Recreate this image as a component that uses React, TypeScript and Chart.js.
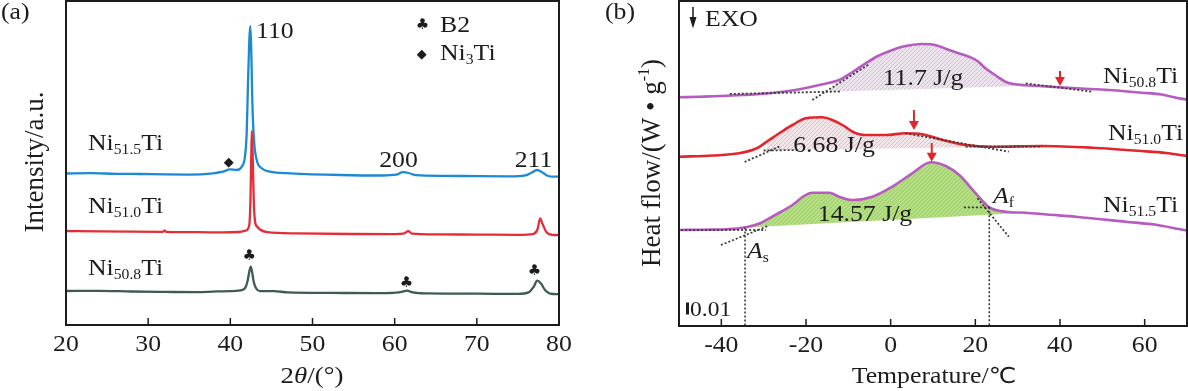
import React, { useEffect, useRef } from "react";
import { Chart, registerables } from "chart.js";

Chart.register(...registerables);

// ---------- Panel (a): XRD ----------
const xrdTickValues = [20, 30, 40, 50, 60, 70, 80];

const ni515Angle = [20, 23, 26, 29, 32, 35, 37.9, 39.1, 39.96, 40.77, 41.38, 41.78, 41.99, 42.15, 42.31, 42.43, 42.55, 42.67, 42.88, 43.21, 43.82, 44.83, 47.3, 53.4, 58.5, 60.2, 61.0, 61.7, 62.6, 66, 70, 74, 75.9, 76.7, 77.3, 77.9, 78.6, 79.3, 80];
const ni515Intensity = [151.5, 151.8, 151.2, 151.0, 150.6, 150.4, 151.7, 153.3, 155.7, 155.0, 158.3, 168.3, 192, 242, 285, 299, 275, 225, 185, 165, 156.7, 153.3, 151.7, 150, 149.5, 150.3, 152.8, 152.0, 149.8, 149.2, 148.8, 148.6, 149.6, 152.5, 155, 153, 149.3, 148.3, 148.3];

const ni510Angle = [20, 24, 28, 31.8, 32.0, 32.2, 36, 39, 41, 41.9, 42.3, 42.45, 42.55, 42.62, 42.72, 42.85, 43.0, 43.25, 43.6, 44.5, 48, 55, 60, 61.2, 61.65, 62.1, 65, 70, 75, 76.9, 77.4, 77.7, 78.0, 78.5, 79.2, 80];
const ni510Intensity = [94, 93.6, 93.3, 93.2, 94.5, 93.2, 92.8, 92.6, 93, 94.5, 100, 125, 170, 194, 170, 125, 104, 98.5, 95.5, 92.8, 91.6, 91, 90.8, 91.6, 94, 91.4, 90.6, 90.4, 90.2, 91.2, 96, 106.7, 101, 92.5, 90.2, 90];

const ni508Angle = [20, 24, 28, 32, 36, 38.3, 40, 41.2, 41.8, 42.1, 42.3, 42.48, 42.65, 42.85, 43.15, 43.6, 45.3, 47, 52, 58, 60.2, 61.0, 61.5, 62.2, 64, 70, 75, 76.3, 76.9, 77.35, 77.8, 78.3, 78.9, 80];
const ni508Intensity = [34, 34.2, 33.5, 33.1, 32.8, 33.6, 33.8, 34.6, 37, 44, 53, 58.3, 53, 43, 36.5, 33.8, 33.9, 32.6, 32.1, 31.8, 32.3, 33.4, 34.3, 32.6, 31.6, 31.3, 31.1, 32.6, 38, 44.3, 41.5, 35, 31.4, 30.8];

const b2MarkerAngles = [42.31, 61.44, 77.03];
const b2MarkerHeights = [69, 42.3, 54.3];
const ni3TiMarkerAngles = [39.8];
const ni3TiMarkerHeights = [162.7];

// ---------- Panel (b): DSC ----------
const dscTickValues = [-40, -20, 0, 20, 40, 60];

const ni508Temp = [-50, -45, -40, -35, -31, -25, -20, -16.9, -12.2, -9, -5.9, -3, 0.4, 3, 7.5, 10.5, 13.8, 16.2, 18.5, 20.5, 22.4, 25, 27.1, 29, 31.8, 35, 39.7, 45, 51.5, 59.3, 64, 68, 70];
const ni508Flow = [228.7, 229.3, 230, 231, 232, 234.5, 238, 241, 246, 254, 262.7, 270, 276, 279.5, 282, 281, 276, 272.5, 269.3, 265, 257.7, 250, 244.3, 242, 240.7, 240, 238.7, 237.5, 236, 233.3, 231.5, 227.7, 226.5];

const ni510Temp = [-50, -42, -35.8, -31.5, -28.7, -25.5, -23.2, -20, -16.2, -13.8, -11, -9, -5.9, -1.2, 3.5, 7.5, 10, 13, 17.7, 24, 35.8, 47.6, 59.3, 65, 70];
const ni510Flow = [169.3, 170.5, 172.7, 178, 186, 195, 201, 207.7, 208.7, 206, 200, 194.3, 191, 191, 192.7, 191.7, 189, 185.3, 181, 179.3, 180, 178.3, 175, 173, 170];

const ni515Temp = [-50, -44, -38.9, -34.2, -31, -28.7, -26, -23.2, -20.5, -18.5, -14.5, -12.2, -9, -4.3, 0.4, 5.1, 9.5, 13, 16.2, 20.1, 23.3, 27.2, 31.9, 37, 43.7, 55.5, 63, 68, 70];
const ni515Flow = [96, 96.3, 96.7, 98.7, 102.5, 107.7, 114, 121, 130, 133.3, 133.3, 129.3, 126, 129.3, 139.3, 152.7, 163.7, 160, 151, 132.7, 118.7, 114.3, 113.3, 111.5, 109.3, 104.3, 101, 97, 95.5];

const enthalpyLabels = ["11.7 J/g", "6.68 J/g", "14.57 J/g"];

const shadeFromT = [-14.6, -29.5, -34.4];
const shadeFromV = [234.3, 175.5, 98.5];
const shadeToT = [33, 25, 32];
const shadeToV = [240.3, 179.3, 113.3];

const peakArrowT = [40, 5.5, 9.7];
const peakArrowTop = [255, 216, 183];
const peakArrowTip = [240, 196, 164.3];

const tangentStartT = [-38, -18.5, 31.9, -34.5, -30, 3.5, 17.7, -49.5, -40.1, 17.3, 20.5];
const tangentStartV = [232, 226, 242.7, 164, 175.5, 192.7, 179.3, 96, 81, 118.7, 127.7];
const tangentEndT = [-12, -5, 47.6, -26, -22, 27.9, 35.8, -29.5, -29, 23.7, 27.9];
const tangentEndV = [234.5, 262, 234.3, 180, 176, 174.3, 179.3, 96, 100, 118.7, 89.3];

const guideT = [-34.4, 23.3];
const guideTopV = [98.5, 118.7];

const scaleBarFlow = [11.5, 23.5]; // 0.01 W/g

// ---------- drawing helpers ----------
const SERIF = '"Liberation Serif", "Times New Roman", "DejaVu Serif", serif';
const SYM = '"DejaVu Sans", "Noto Sans", sans-serif';
const SX = 1.12;
const INK = "#1c1c1c";

type Run = { t: string; size: number; dy?: number; italic?: boolean; font?: string };
const fontOf = (r: Run) => `${r.italic ? "italic " : ""}${r.size}px ${r.font ?? SERIF}`;

function drawRuns(ctx: CanvasRenderingContext2D, runs: Run[], x: number, y: number, align: "left" | "center" | "right" = "left", sx = SX) {
  ctx.save();
  ctx.textBaseline = "alphabetic";
  ctx.textAlign = "left";
  ctx.fillStyle = INK;
  const widths = runs.map((r) => {
    ctx.font = fontOf(r);
    return ctx.measureText(r.t).width * sx;
  });
  const total = widths.reduce((s, w) => s + w, 0);
  let cx = align === "center" ? x - total / 2 : align === "right" ? x - total : x;
  runs.forEach((r, i) => {
    ctx.font = fontOf(r);
    ctx.save();
    ctx.translate(cx, y + (r.dy ?? 0));
    ctx.scale(sx, 1);
    ctx.fillText(r.t, 0, 0);
    ctx.restore();
    cx += widths[i];
  });
  ctx.restore();
}

function drawRotated(ctx: CanvasRenderingContext2D, runs: Run[], x: number, y: number) {
  ctx.save();
  ctx.translate(x, y);
  ctx.rotate(-Math.PI / 2);
  drawRuns(ctx, runs, 0, 0, "center", 1);
  ctx.restore();
}

function sample(sub: string, size = 23): Run[] {
  return [
    { t: "Ni", size },
    { t: sub, size: 14, dy: 4 },
    { t: "Ti", size },
  ];
}

function drawSymbol(ctx: CanvasRenderingContext2D, s: string, x: number, y: number, size: number) {
  ctx.save();
  ctx.font = `${size}px ${SYM}`;
  ctx.fillStyle = INK;
  ctx.textAlign = "center";
  ctx.textBaseline = "middle";
  ctx.fillText(s, x, y);
  ctx.restore();
}

function drawFrameAndTicks(ctx: CanvasRenderingContext2D, chart: any, labelBaseline: number) {
  const a = chart.chartArea;
  const x = chart.scales.x;
  ctx.save();
  ctx.strokeStyle = INK;
  ctx.lineWidth = 2;
  ctx.strokeRect(a.left, a.top, a.right - a.left, a.bottom - a.top);
  ctx.lineWidth = 1.5;
  x.ticks.forEach((t: any) => {
    const px = x.getPixelForValue(t.value);
    if (t.value > x.min && t.value < x.max) {
      ctx.beginPath();
      ctx.moveTo(px, a.bottom);
      ctx.lineTo(px, a.bottom - 7);
      ctx.stroke();
    }
    drawRuns(ctx, [{ t: String(t.value), size: 23 }], px, labelBaseline, "center");
  });
  ctx.restore();
}

function hatchPolygon(ctx: CanvasRenderingContext2D, poly: number[][], fill: string, line: string) {
  ctx.save();
  ctx.beginPath();
  poly.forEach((p, i) => (i ? ctx.lineTo(p[0], p[1]) : ctx.moveTo(p[0], p[1])));
  ctx.closePath();
  ctx.fillStyle = fill;
  ctx.fill();
  ctx.clip();
  const xs = poly.map((p) => p[0]);
  const ys = poly.map((p) => p[1]);
  const minX = Math.min(...xs), maxX = Math.max(...xs);
  const minY = Math.min(...ys), maxY = Math.max(...ys);
  const h = maxY - minY;
  ctx.strokeStyle = line;
  ctx.lineWidth = 1;
  ctx.beginPath();
  for (let k = minX - h - 4; k < maxX + 4; k += 4) {
    ctx.moveTo(k, maxY + 1);
    ctx.lineTo(k + h + 2, minY - 1);
  }
  ctx.stroke();
  ctx.restore();
}

function pts(xs: number[], ys: number[]) {
  return xs.map((x, i) => ({ x, y: ys[i] }));
}

const noAxis = (afterFit: (s: any) => void, extra: any = {}) => ({
  type: "linear",
  ticks: { display: false },
  grid: { display: false },
  border: { display: false },
  afterFit,
  ...extra,
});

// ---------- Panel A plugin ----------
const panelAPlugin = {
  id: "panelA",
  afterDatasetsDraw(chart: any) {
    const ctx: CanvasRenderingContext2D = chart.ctx;
    const { x, y } = chart.scales;
    drawFrameAndTicks(ctx, chart, 351);

    drawRuns(ctx, [{ t: "(a)", size: 23 }], 1, 19);
    drawRuns(ctx, [{ t: "110", size: 23 }], 256, 38);
    drawRuns(ctx, [{ t: "200", size: 23 }], 398.5, 166.5, "center");
    drawRuns(ctx, [{ t: "211", size: 23 }], 533.5, 166.5, "center");

    // legend
    drawSymbol(ctx, "\u2663", 422.5, 24.7, 15);
    drawRuns(ctx, [{ t: "B2", size: 23 }], 440, 32);
    drawSymbol(ctx, "\u25C6", 421.8, 54.3, 13);
    drawRuns(ctx, [{ t: "Ni", size: 23 }, { t: "3", size: 14, dy: 4 }, { t: "Ti", size: 23 }], 440, 60);

    // sample labels
    drawRuns(ctx, sample("51.5"), 88, 150);
    drawRuns(ctx, sample("51.0"), 88, 213);
    drawRuns(ctx, sample("50.8"), 88, 275);

    // phase markers
    b2MarkerAngles.forEach((a, i) => drawSymbol(ctx, "\u2663", x.getPixelForValue(a), y.getPixelForValue(b2MarkerHeights[i]), 15));
    ni3TiMarkerAngles.forEach((a, i) => drawSymbol(ctx, "\u25C6", x.getPixelForValue(a), y.getPixelForValue(ni3TiMarkerHeights[i]), 13));

    // axis titles
    drawRotated(ctx, [{ t: "Intensity/a.u.", size: 27 }], 43, 162);
    drawRuns(ctx, [{ t: "2", size: 24 }, { t: "\u03B8", size: 24, italic: true }, { t: "/(\u00B0)", size: 24 }], 312, 383, "center");
  },
};

// ---------- Panel B plugin ----------
const curveSets = [
  { t: ni508Temp, v: ni508Flow, fill: "#efe7ef", hatch: "#cdb9ce" },
  { t: ni510Temp, v: ni510Flow, fill: "#f4e7ea", hatch: "#dbbfc8" },
  { t: ni515Temp, v: ni515Flow, fill: "#a8d574", hatch: "#c8e8a2" },
];

const panelBPlugin = {
  id: "panelB",
  beforeDatasetsDraw(chart: any) {
    const ctx: CanvasRenderingContext2D = chart.ctx;
    const { x, y } = chart.scales;
    curveSets.forEach((c, k) => {
      const poly: number[][] = [[x.getPixelForValue(shadeFromT[k]), y.getPixelForValue(shadeFromV[k])]];
      c.t.forEach((t, i) => {
        if (t > shadeFromT[k] && t < shadeToT[k]) poly.push([x.getPixelForValue(t), y.getPixelForValue(c.v[i])]);
      });
      poly.push([x.getPixelForValue(shadeToT[k]), y.getPixelForValue(shadeToV[k])]);
      hatchPolygon(ctx, poly, c.fill, c.hatch);
    });
  },
  afterDatasetsDraw(chart: any) {
    const ctx: CanvasRenderingContext2D = chart.ctx;
    const { x, y } = chart.scales;
    drawFrameAndTicks(ctx, chart, 351.5);

    // red peak arrows
    ctx.save();
    ctx.strokeStyle = "#e3262b";
    ctx.fillStyle = "#e3262b";
    ctx.lineWidth = 2;
    peakArrowT.forEach((t, i) => {
      const px = x.getPixelForValue(t);
      const top = y.getPixelForValue(peakArrowTop[i]);
      const tip = y.getPixelForValue(peakArrowTip[i]);
      ctx.beginPath();
      ctx.moveTo(px, top);
      ctx.lineTo(px, tip - 6);
      ctx.stroke();
      ctx.beginPath();
      ctx.moveTo(px - 5, tip - 9);
      ctx.lineTo(px + 5, tip - 9);
      ctx.lineTo(px, tip);
      ctx.closePath();
      ctx.fill();
    });
    ctx.restore();

    // EXO arrow
    ctx.save();
    ctx.strokeStyle = INK;
    ctx.fillStyle = INK;
    ctx.lineWidth = 1.5;
    ctx.beginPath();
    ctx.moveTo(693, 7);
    ctx.lineTo(693, 22);
    ctx.stroke();
    ctx.beginPath();
    ctx.moveTo(689.5, 17);
    ctx.lineTo(696.5, 17);
    ctx.lineTo(693, 28.5);
    ctx.closePath();
    ctx.fill();
    // scale bar 0.01
    const yb0 = y.getPixelForValue(scaleBarFlow[1]);
    const yb1 = y.getPixelForValue(scaleBarFlow[0]);
    ctx.fillRect(686, yb0, 3, yb1 - yb0);
    ctx.restore();

    drawRuns(ctx, [{ t: "EXO", size: 23 }], 705, 26);
    drawRuns(ctx, [{ t: "0.01", size: 21 }], 690, 316);
    drawRuns(ctx, [{ t: "(b)", size: 23 }], 605, 19);

    drawRuns(ctx, [{ t: enthalpyLabels[0], size: 23 }], 923, 85, "center");
    drawRuns(ctx, [{ t: enthalpyLabels[1], size: 23 }], 834, 151.5, "center");
    drawRuns(ctx, [{ t: enthalpyLabels[2], size: 23 }], 865, 220.5, "center");

    drawRuns(ctx, sample("50.8"), 1103, 83);
    drawRuns(ctx, sample("51.0"), 1108, 140);
    drawRuns(ctx, sample("51.5"), 1103, 211.5);

    drawRuns(ctx, [{ t: "A", size: 23, italic: true }, { t: "f", size: 14, dy: 4 }], 993, 203);
    drawRuns(ctx, [{ t: "A", size: 23, italic: true }, { t: "s", size: 14, dy: 4 }], 747, 258);

    drawRotated(ctx, [{ t: "Heat flow/(W \u2022 g", size: 27 }, { t: "-1", size: 16, dy: -11 }, { t: ")", size: 27 }], 660, 163);
    drawRuns(ctx, [{ t: "Temperature/", size: 23 }, { t: "\u2103", size: 22, font: SYM }], 934, 383, "center");
  },
};

export default function App() {
  const refA = useRef<HTMLCanvasElement>(null);
  const refB = useRef<HTMLCanvasElement>(null);

  useEffect(() => {
    const lineStyle = (color: string, width = 2.3) => ({
      borderColor: color,
      borderWidth: width,
      pointRadius: 0,
      fill: false,
      cubicInterpolationMode: "monotone" as const,
    });

    const chartA = new Chart(refA.current!, {
      type: "line",
      data: {
        datasets: [
          { data: pts(ni510Angle, ni510Intensity), ...lineStyle("#e52d3a") },
          { data: pts(ni515Angle, ni515Intensity), ...lineStyle("#1b8ad3") },
          { data: pts(ni508Angle, ni508Intensity), ...lineStyle("#3e5b55") },
        ],
      },
      options: {
        animation: false,
        responsive: false,
        devicePixelRatio: 1,
        events: [],
        layout: { padding: { left: 0, top: 1, right: 1188 - 559, bottom: 0 } },
        plugins: { legend: { display: false }, tooltip: { enabled: false } },
        scales: {
          x: noAxis((s) => { s.height = 391 - 325; }, {
            min: 20, max: 80,
            afterBuildTicks: (s: any) => { s.ticks = xrdTickValues.map((value) => ({ value })); },
          }),
          y: noAxis((s) => { s.width = 66; }, { min: 0, max: 324 }),
        },
      } as any,
      plugins: [panelAPlugin],
    });

    const dotted = tangentStartT.map((t, i) => ({
      data: [{ x: t, y: tangentStartV[i] }, { x: tangentEndT[i], y: tangentEndV[i] }],
      borderColor: "#3a3a3a",
      borderWidth: 1.8,
      borderDash: [2, 2],
      pointRadius: 0,
      fill: false,
    }));
    const guides = guideT.map((t, i) => ({
      data: [{ x: t, y: guideTopV[i] }, { x: t, y: 0 }],
      borderColor: "#3a3a3a",
      borderWidth: 1.6,
      borderDash: [2, 2],
      pointRadius: 0,
      fill: false,
    }));

    const chartB = new Chart(refB.current!, {
      type: "line",
      data: {
        datasets: [
          ...dotted,
          ...guides,
          { data: pts(ni508Temp, ni508Flow), ...lineStyle("#b65cc0", 2.6) },
          { data: pts(ni510Temp, ni510Flow), ...lineStyle("#e3262b", 2.6) },
          { data: pts(ni515Temp, ni515Flow), ...lineStyle("#b65cc0", 2.6) },
        ],
      },
      options: {
        animation: false,
        responsive: false,
        devicePixelRatio: 1,
        events: [],
        layout: { padding: { left: 0, top: 1, right: 1, bottom: 0 } },
        plugins: { legend: { display: false }, tooltip: { enabled: false } },
        scales: {
          x: noAxis((s) => { s.height = 391 - 326; }, {
            min: -50, max: 70,
            afterBuildTicks: (s: any) => { s.ticks = dscTickValues.map((value) => ({ value })); },
          }),
          y: noAxis((s) => { s.width = 679; }, { min: 0, max: 325 }),
        },
      } as any,
      plugins: [panelBPlugin],
    });

    return () => {
      chartA.destroy();
      chartB.destroy();
    };
  }, []);

  const cs: React.CSSProperties = { position: "absolute", left: 0, top: 0, width: 1188, height: 391 };
  return (
    <div style={{ position: "fixed", left: 0, top: 0, width: 1188, height: 391, background: "#fff" }}>
      <canvas ref={refA} width={1188} height={391} style={cs} />
      <canvas ref={refB} width={1188} height={391} style={cs} />
    </div>
  );
}
